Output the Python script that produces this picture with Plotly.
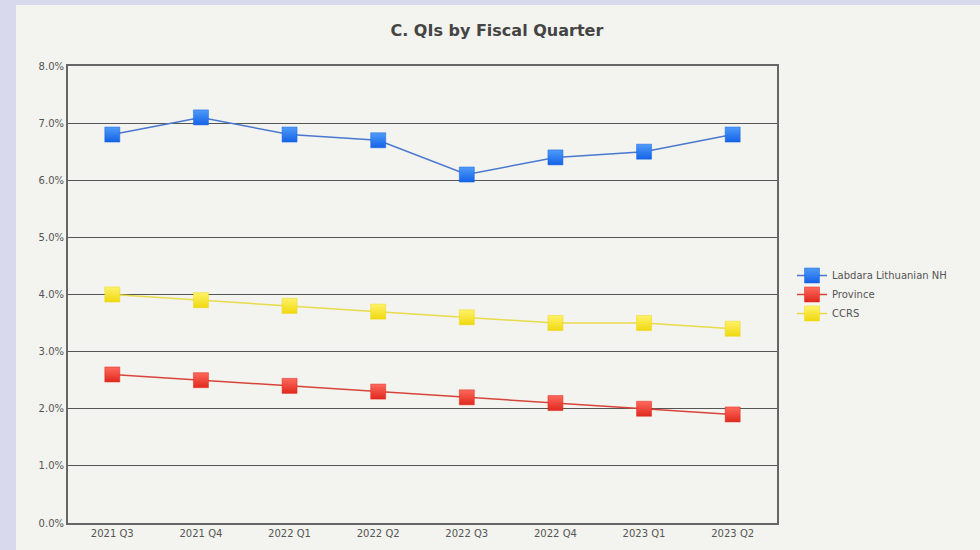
import plotly.graph_objects as go

quarters = ["2021 Q3", "2021 Q4", "2022 Q1", "2022 Q2", "2022 Q3", "2022 Q4", "2023 Q1", "2023 Q2"]
labdara = [6.8, 7.1, 6.8, 6.7, 6.1, 6.4, 6.5, 6.8]
province = [2.6, 2.5, 2.4, 2.3, 2.2, 2.1, 2.0, 1.9]
ccrs = [4.0, 3.9, 3.8, 3.7, 3.6, 3.5, 3.5, 3.4]
y_ticks = [0, 1, 2, 3, 4, 5, 6, 7, 8]

series = [
    ("Labdara Lithuanian NH", labdara, "#4a78d0", "#4f9cfa", "#1462e6"),
    ("Province", province, "#d8433a", "#ff6a5c", "#e0281e"),
    ("CCRS", ccrs, "#e8dc4a", "#fff26a", "#efd80e"),
]

fig = go.Figure()
for name, vals, lc, mc, gc in series:
    fig.add_trace(go.Scatter(
        x=quarters, y=vals, name=name, mode="lines+markers",
        line=dict(color=lc, width=1.5),
        marker=dict(symbol="square", size=15, color=mc,
                    gradient=dict(type="vertical", color=gc),
                    line=dict(color=gc, width=0.5)),
    ))

W, H = 980, 550
l, r, t, b = 68, 203, 66, 27
pw, ph = W - l - r, H - t - b

def px_x(x):
    return (x - l) / pw

def px_y(y):
    return (H - b - y) / ph

fig.add_shape(type="rect", xref="paper", yref="paper",
              x0=px_x(16), x1=px_x(980), y0=px_y(550), y1=px_y(5),
              fillcolor="#f3f3ef", line=dict(width=0), layer="below")

fig.update_layout(
    width=W, height=H,
    margin=dict(l=l, r=r, t=t, b=b),
    paper_bgcolor="#d9d9ee",
    plot_bgcolor="#f3f3ef",
    font=dict(family="DejaVu Sans", size=10, color="#555555"),
    title=dict(text="<b>C. QIs by Fiscal Quarter</b>", x=0.507, xref="container",
               y=1 - 30 / H, yanchor="middle",
               font=dict(family="DejaVu Sans", size=16, color="#444444")),
    showlegend=True,
    legend=dict(x=px_x(792), y=0.50, xanchor="left", yanchor="middle",
                bgcolor="rgba(0,0,0,0)", font=dict(size=10, color="#555555"),
                itemwidth=30, tracegroupgap=0),
    xaxis=dict(type="category", range=[-0.5, 7.5], showgrid=False,
               showline=True, linecolor="#666666", linewidth=2, mirror=True,
               ticks="", tickfont=dict(size=10, color="#555555")),
    yaxis=dict(range=[0, 8], tickvals=y_ticks, ticktext=[f"{v:.1f}%" for v in y_ticks],
               showgrid=True, gridcolor="#555555", gridwidth=1,
               showline=True, linecolor="#666666", linewidth=2, mirror=True,
               zeroline=False, ticks="", tickfont=dict(size=10, color="#555555")),
)

fig.write_html("out.html")
